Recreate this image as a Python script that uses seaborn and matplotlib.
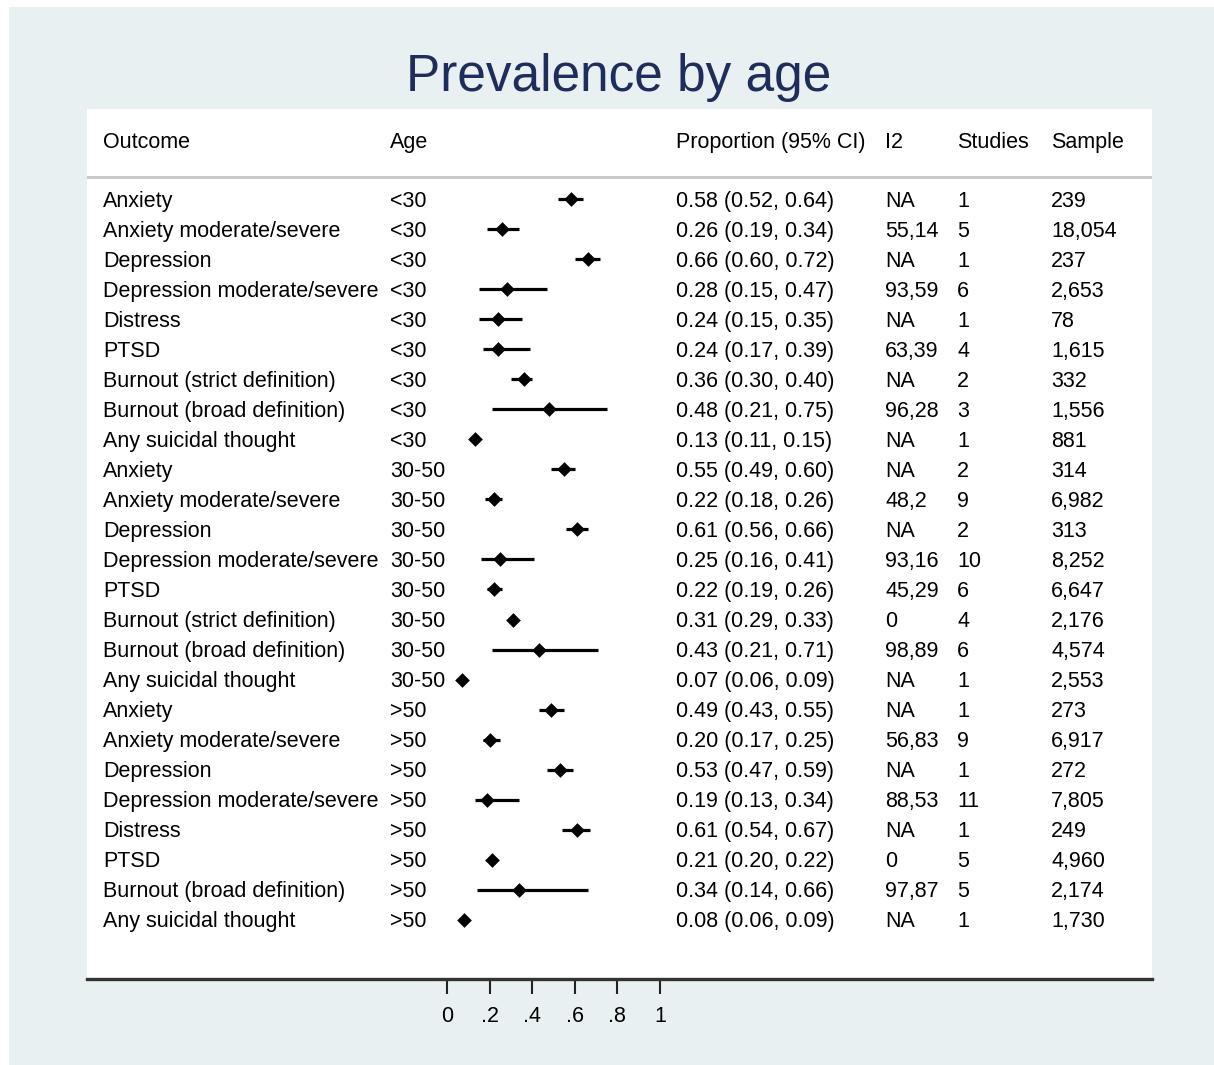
import matplotlib
matplotlib.use("Agg")
import matplotlib.pyplot as plt
import seaborn as sns
import pandas as pd
from matplotlib.patches import Rectangle

outcomes = ["Anxiety", "Anxiety moderate/severe", "Depression", "Depression moderate/severe",
            "Distress", "PTSD", "Burnout (strict definition)", "Burnout (broad definition)",
            "Any suicidal thought",
            "Anxiety", "Anxiety moderate/severe", "Depression", "Depression moderate/severe",
            "PTSD", "Burnout (strict definition)", "Burnout (broad definition)",
            "Any suicidal thought",
            "Anxiety", "Anxiety moderate/severe", "Depression", "Depression moderate/severe",
            "Distress", "PTSD", "Burnout (broad definition)", "Any suicidal thought"]
ages = ["<30"] * 9 + ["30-50"] * 8 + [">50"] * 8
prop = [0.58, 0.26, 0.66, 0.28, 0.24, 0.24, 0.36, 0.48, 0.13,
        0.55, 0.22, 0.61, 0.25, 0.22, 0.31, 0.43, 0.07,
        0.49, 0.20, 0.53, 0.19, 0.61, 0.21, 0.34, 0.08]
lower = [0.52, 0.19, 0.60, 0.15, 0.15, 0.17, 0.30, 0.21, 0.11,
         0.49, 0.18, 0.56, 0.16, 0.19, 0.29, 0.21, 0.06,
         0.43, 0.17, 0.47, 0.13, 0.54, 0.20, 0.14, 0.06]
upper = [0.64, 0.34, 0.72, 0.47, 0.35, 0.39, 0.40, 0.75, 0.15,
         0.60, 0.26, 0.66, 0.41, 0.26, 0.33, 0.71, 0.09,
         0.55, 0.25, 0.59, 0.34, 0.67, 0.22, 0.66, 0.09]
i2 = ["NA", "55,14", "NA", "93,59", "NA", "63,39", "NA", "96,28", "NA",
      "NA", "48,2", "NA", "93,16", "45,29", "0", "98,89", "NA",
      "NA", "56,83", "NA", "88,53", "NA", "0", "97,87", "NA"]
studies = ["1", "5", "1", "6", "1", "4", "2", "3", "1",
           "2", "9", "2", "10", "6", "4", "6", "1",
           "1", "9", "1", "11", "1", "5", "5", "1"]
sample = ["239", "18,054", "237", "2,653", "78", "1,615", "332", "1,556", "881",
          "314", "6,982", "313", "8,252", "6,647", "2,176", "4,574", "2,553",
          "273", "6,917", "272", "7,805", "249", "4,960", "2,174", "1,730"]
headers = ["Outcome", "Age", "Proportion (95% CI)", "I2", "Studies", "Sample"]
xticks = [0, 0.2, 0.4, 0.6, 0.8, 1]
xticklabels = ["0", ".2", ".4", ".6", ".8", "1"]
title = "Prevalence by age"

plt.rcParams["font.family"] = ["Liberation Sans", "DejaVu Sans"]

df = pd.DataFrame({"outcome": outcomes, "age": ages, "prop": prop,
                   "lo": lower, "hi": upper, "i2": i2, "studies": studies,
                   "sample": sample})
df["row"] = range(len(df))

W, H = 1214, 1065
fig = plt.figure(figsize=(W / 100, H / 100), dpi=100, facecolor="white")
bg = "#E8F0F2"
fig.patches.append(Rectangle((9 / W, 0), 1 - 9 / W, 1 - 7 / H, transform=fig.transFigure,
                             facecolor=bg, edgecolor="none", zorder=-10))

left, right, top, bottom = 87, 1152, 109, 979
ax = fig.add_axes([left / W, 1 - bottom / H, (right - left) / W, (bottom - top) / H])
ax.set_facecolor("white")

x0, scale = 447, 213.0
def px2x(p):
    return (p - x0) / scale

ax.hlines(df["row"], df["lo"], df["hi"], color="black", lw=2.3, zorder=2)
sns.scatterplot(data=df, x="prop", y="row", marker="D", color="black", s=56,
                linewidth=0, ax=ax, zorder=3)

ax.set_xlim(px2x(left), px2x(right))
ax.set_ylim(25.97, -3.0)
ax.set_xlabel("")
ax.set_ylabel("")
ax.set_yticks([])
ax.set_xticks(xticks)
ax.set_xticklabels(xticklabels, fontsize=15.5)
ax.tick_params(axis="x", length=10.5, width=1.5, color="#222222", pad=9)
for s in ["top", "left", "right"]:
    ax.spines[s].set_visible(False)
ax.spines["bottom"].set_linewidth(2.4)
ax.spines["bottom"].set_color("#333333")

ax.axhline(-0.74, color="#C9C9C9", lw=2.2, zorder=1)

col_px = [103, 390, 676, 885, 957, 1051]
col_x = [px2x(p) for p in col_px]
fs = 15.5
dy = 0.07
hy = (140 - 199) / 30.04 + dy
for cx, h in zip(col_x, headers):
    ax.text(cx, hy, h, ha="left", va="center", fontsize=fs, color="black")

for _, r in df.iterrows():
    y = r["row"] + dy
    vals = [r["outcome"], r["age"], f"{r['prop']:.2f} ({r['lo']:.2f}, {r['hi']:.2f})",
            r["i2"], r["studies"], r["sample"]]
    for cx, v in zip(col_x, vals):
        ax.text(cx, y, v, ha="left", va="center", fontsize=fs, color="black")

fig.text(619 / W, 1 - 77 / H, title, ha="center", va="center", fontsize=37,
         color="#1F2D5A")

fig.savefig("out.png", dpi=100, facecolor="white")
